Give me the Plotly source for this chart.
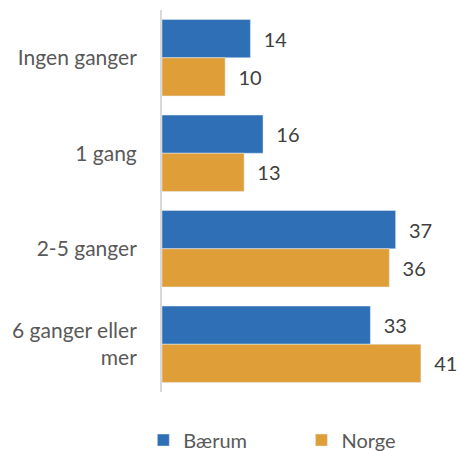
import plotly.graph_objects as go

categories = ["Ingen ganger", "1 gang", "2-5 ganger", "6 ganger eller<br>mer"]
baerum = [14, 16, 37, 33]
norge = [10, 13, 36, 41]

FONT = "Lato"
fig = go.Figure()
fig.add_trace(go.Bar(y=categories, x=baerum, name="Bærum", orientation="h",
                     marker=dict(color="#2E6FB5"), texttemplate="  %{x}", textposition="outside",
                     textfont=dict(color="#404040", size=20, family=FONT), cliponaxis=False,
                     legend="legend"))
fig.add_trace(go.Bar(y=categories, x=norge, name="Norge", orientation="h",
                     marker=dict(color="#E09E38"), texttemplate="  %{x}", textposition="outside",
                     textfont=dict(color="#404040", size=20, family=FONT), cliponaxis=False,
                     legend="legend2"))

leg_common = dict(orientation="h", xref="container", yref="container",
                  xanchor="left", y=0.042, yanchor="middle", itemwidth=30,
                  font=dict(size=20, color="#595959"), bgcolor="rgba(0,0,0,0)")

fig.update_layout(
    width=465, height=451,
    margin=dict(l=154, r=18, t=2, b=67, autoexpand=False),
    barmode="group", bargap=0.2, bargroupgap=0,
    plot_bgcolor="white", paper_bgcolor="white",
    font=dict(family=FONT, size=20, color="#595959"),
    xaxis=dict(range=[0, 46.4], visible=False, showgrid=False, automargin=False),
    yaxis=dict(autorange="reversed", showline=True, linecolor="#D9D9D9", linewidth=2,
               automargin=False,
               ticks="", ticklabelstandoff=19, tickfont=dict(size=21, color="#595959")),
    legend=dict(x=0.291, **leg_common),
    legend2=dict(x=0.631, **leg_common),
    showlegend=True,
)
fig.write_html("out.html")
